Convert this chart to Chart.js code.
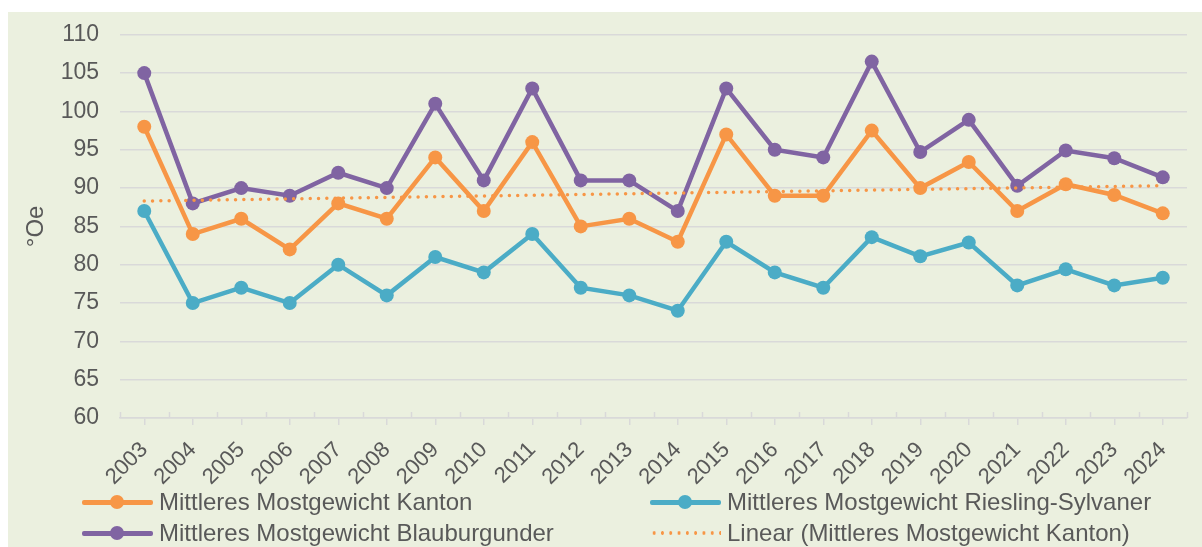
<!DOCTYPE html>
<html>
<head>
<meta charset="utf-8">
<script src="https://cdn.jsdelivr.net/npm/chart.js@4/dist/chart.umd.min.js"></script>
<style>
  html, body { margin: 0; padding: 0; background: #fff; }
  body { width: 1202px; height: 547px; position: relative; overflow: hidden; font-family: "Liberation Sans", Arial, sans-serif; }
  #bg { position: absolute; left: 8px; top: 12px; right: 0; bottom: 0; background: #EBF0DF; }
  #wrap { position: absolute; left: 0; top: 0; width: 1202px; height: 547px; }
  .legend { position: absolute; color: #595959; font-size: 24px; }
  .item { position: absolute; display: flex; align-items: center; height: 28px; white-space: nowrap; }
  .sample { position: relative; width: 71px; height: 28px; margin-right: 6px; }
  .sample .ln { position: absolute; left: 0; right: 0; top: 12px; height: 4.5px; border-radius: 2px; }
  .sample .dot { position: absolute; left: 28px; top: 7px; width: 14px; height: 14px; border-radius: 50%; }
  .sample .dots { position: absolute; left: 0; right: 0; top: 12px; height: 4px;
    background-image: radial-gradient(circle, #F79646 1.6px, transparent 1.9px);
    background-size: 8.3px 4px; background-repeat: repeat-x; }
</style>
</head>
<body>
<div id="bg"></div>
<div id="wrap"><canvas id="chart"></canvas></div>
<div class="legend" id="legend"></div>
<script>
// Mittleres Mostgewicht in °Oe
const years = ['2003','2004','2005','2006','2007','2008','2009','2010','2011','2012','2013',
               '2014','2015','2016','2017','2018','2019','2020','2021','2022','2023','2024'];
const kanton = [98, 84, 86, 82, 88, 86, 94, 87, 96, 85, 86, 83, 97, 89, 89, 97.5, 90, 93.4, 87, 90.5, 89.1, 86.7];
const riesling = [87, 75, 77, 75, 80, 76, 81, 79, 84, 77, 76, 74, 83, 79, 77, 83.6, 81.1, 82.9, 77.3, 79.4, 77.3, 78.3];
const blauburgunder = [105, 88, 90, 89, 92, 90, 101, 91, 103, 91, 91, 87, 103, 95, 94, 106.5, 94.7, 98.9, 90.3, 94.9, 93.9, 91.4];
const trendKanton = [88.3, null, null, null, null, null, null, null, null, null, null,
                     null, null, null, null, null, null, null, null, null, null, 90.3];
const yTicks = [60, 65, 70, 75, 80, 85, 90, 95, 100, 105, 110];

const labels = {
  kanton: 'Mittleres Mostgewicht Kanton',
  riesling: 'Mittleres Mostgewicht Riesling-Sylvaner',
  blau: 'Mittleres Mostgewicht Blauburgunder',
  trend: 'Linear (Mittleres Mostgewicht Kanton)'
};
const colors = { kanton: '#F79646', riesling: '#4BACC6', blau: '#8064A2' };
const textColor = '#595959';
const gridColor = '#D9D9D9';

function lineSet(label, data, color, order) {
  return {
    label: label, data: data, order: order,
    borderColor: color, backgroundColor: color,
    borderWidth: 4.5, pointRadius: 7, pointHoverRadius: 7,
    pointBorderWidth: 0, tension: 0
  };
}

const crossTicks = {
  id: 'crossTicks',
  afterDatasetsDraw(chart) {
    // Excel-Teilstriche, die die Achse kreuzen: den Teil oberhalb der Achse nachzeichnen
    const x = chart.scales.x, ctx = chart.ctx;
    const step = (x.right - x.left) / years.length;
    ctx.save();
    ctx.strokeStyle = gridColor;
    ctx.lineWidth = 1.5;
    for (let i = 0; i <= years.length; i++) {
      const px = Math.round(x.left + i * step) + 0.5;
      ctx.beginPath();
      ctx.moveTo(px, x.top - 6);
      ctx.lineTo(px, x.top);
      ctx.stroke();
    }
    ctx.restore();
  }
};

new Chart(document.getElementById('chart'), {
  type: 'line',
  data: {
    labels: years,
    datasets: [
      lineSet(labels.kanton, kanton, colors.kanton, 3),
      lineSet(labels.riesling, riesling, colors.riesling, 2),
      lineSet(labels.blau, blauburgunder, colors.blau, 1),
      {
        label: labels.trend, data: trendKanton, order: 0, spanGaps: true,
        borderColor: colors.kanton, borderWidth: 3.5, borderDash: [0, 8.3],
        borderCapStyle: 'round', pointRadius: 0, pointHoverRadius: 0, fill: false
      }
    ]
  },
  options: {
    responsive: true,
    maintainAspectRatio: false,
    animation: false,
    events: [],
    layout: { padding: { top: 34, right: 15, left: 0, bottom: 0 } },
    plugins: { legend: { display: false }, tooltip: { enabled: false } },
    scales: {
      x: {
        offset: true,
        grid: { drawOnChartArea: false, tickLength: 7, color: gridColor, lineWidth: 1.5 },
        border: { color: gridColor, width: 1.5 },
        ticks: {
          color: textColor, font: { family: 'Liberation Sans', size: 22 },
          minRotation: 45, maxRotation: 45, autoSkip: false, padding: 12
        },
        afterFit(scale) { scale.height = 129; }
      },
      y: {
        min: 60, max: 110,
        afterBuildTicks(scale) { scale.ticks = yTicks.map(v => ({ value: v })); },
        grid: { color: gridColor, lineWidth: 1.5, drawTicks: false },
        border: { display: false },
        ticks: { color: textColor, font: { family: 'Liberation Sans', size: 23 }, padding: 21 },
        title: {
          display: true, text: '°Oe', color: textColor,
          font: { family: 'Liberation Sans', size: 24 }, padding: { top: 22, bottom: 0 }
        },
        afterFit(scale) { scale.width = 120; }
      }
    }
  },
  plugins: [crossTicks]
});

// Legende in zwei Spalten wie im Original
const legendItems = [
  { text: labels.kanton, color: colors.kanton, left: 82, top: 488 },
  { text: labels.riesling, color: colors.riesling, left: 650, top: 488 },
  { text: labels.blau, color: colors.blau, left: 82, top: 519 },
  { text: labels.trend, color: null, left: 650, top: 519 }
];
const legend = document.getElementById('legend');
legendItems.forEach(it => {
  const el = document.createElement('div');
  el.className = 'item';
  el.style.left = it.left + 'px';
  el.style.top = it.top + 'px';
  const s = document.createElement('span');
  s.className = 'sample';
  if (it.color) {
    s.innerHTML = '<span class="ln" style="background:' + it.color + '"></span>' +
                  '<span class="dot" style="background:' + it.color + '"></span>';
  } else {
    s.innerHTML = '<span class="dots"></span>';
  }
  const t = document.createElement('span');
  t.textContent = it.text;
  el.appendChild(s);
  el.appendChild(t);
  legend.appendChild(el);
});
</script>
</body>
</html>
